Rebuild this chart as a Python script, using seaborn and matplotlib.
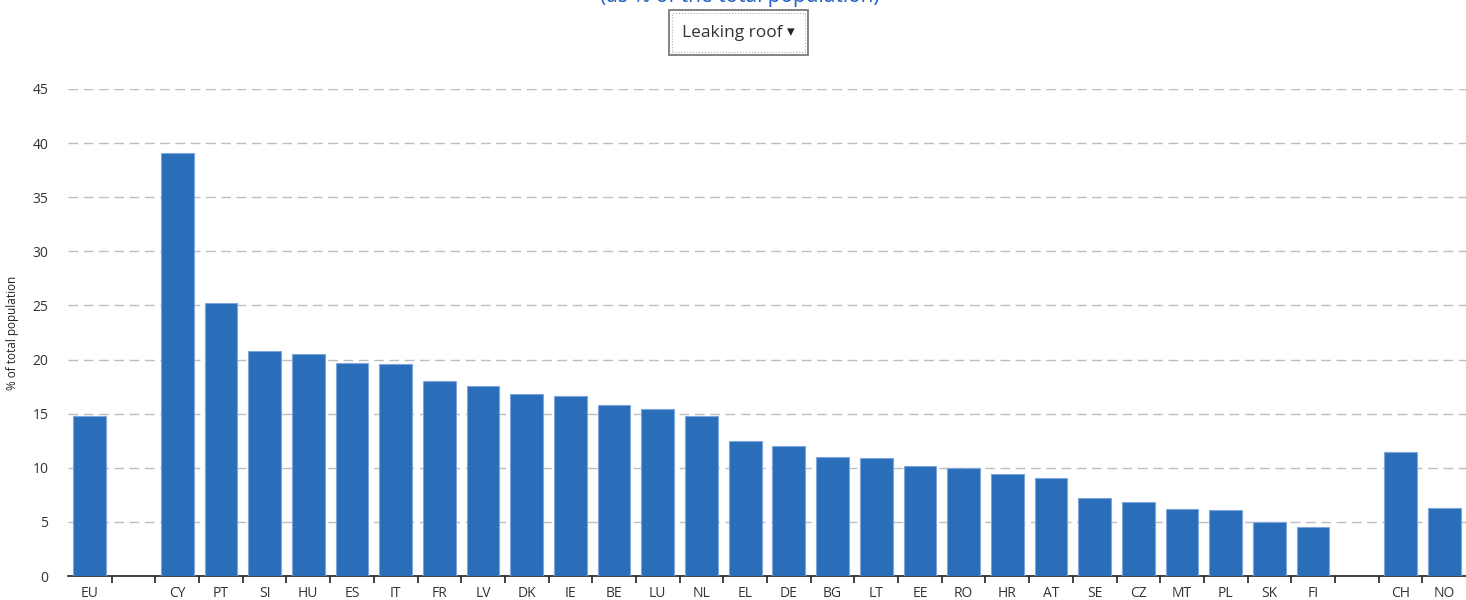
import matplotlib
matplotlib.use("Agg")
import matplotlib.pyplot as plt
import numpy as np
import pandas as pd
import seaborn as sns
from matplotlib.patches import Rectangle

# data
countries = ["EU", "CY", "PT", "SI", "HU", "ES", "IT", "FR", "LV", "DK", "IE", "BE", "LU", "NL",
             "EL", "DE", "BG", "LT", "EE", "RO", "HR", "AT", "SE", "CZ", "MT", "PL", "SK", "FI",
             "CH", "NO"]
values = [14.8, 39.1, 25.2, 20.8, 20.5, 19.7, 19.6, 18.0, 17.6, 16.8, 16.6, 15.8, 15.4, 14.8,
          12.5, 12.0, 11.0, 10.9, 10.2, 10.0, 9.4, 9.1, 7.2, 6.8, 6.2, 6.1, 5.0, 4.5,
          11.5, 6.3]
# empty slots separate EU / member states / EFTA
order = ["EU", " "] + countries[1:28] + ["  "] + countries[28:]

df = pd.DataFrame({"country": countries, "value": values})

sns.set_style("white")
plt.rcParams["font.family"] = ["Open Sans", "DejaVu Sans"]

fig = plt.figure(figsize=(14.66, 6), dpi=100)
ax = fig.add_axes([68 / 1466, 24 / 600, 1 - 68 / 1466, (576 - 89) / 600])

sns.barplot(data=df, x="country", y="value", order=order, color="#2a6eb9",
            saturation=1, width=0.75, edgecolor="#7ea6dc", linewidth=0.8, ax=ax, zorder=3)

ax.set_xlim(-0.5, len(order) - 0.5)
ax.set_ylim(0, 45)
ax.set_yticks(np.arange(0, 46, 5))
ax.yaxis.grid(True, linestyle=(0, (7, 4)), color="#bdbdbd", linewidth=1, zorder=0)
ax.set_axisbelow(True)

ax.set_xticks(range(len(order)))
ax.set_xticklabels(order)
ax.set_xticks(np.arange(0.5, len(order) - 1, 1), minor=True)
ax.tick_params(axis="x", which="major", bottom=True, length=0, pad=7, labelsize=10,
               labelcolor="#333333")
ax.tick_params(axis="x", which="minor", bottom=True, length=5, width=1.2, color="#222222")
ax.tick_params(axis="y", length=0, pad=14, labelsize=10, labelcolor="#333333")

for s in ["top", "right", "left"]:
    ax.spines[s].set_visible(False)
ax.spines["bottom"].set_color("#222222")
ax.spines["bottom"].set_linewidth(1.2)

ax.set_xlabel("")
ax.set_ylabel("% of total population", fontsize=8.5, color="#222222", labelpad=10)

# subtitle, cut off at the top edge as in the original
fig.text(740 / 1466, 1 - 2 / 600, "(as % of the total population)", ha="center", va="baseline",
         fontsize=15, color="#1f5fbf")

# dropdown button
btn = Rectangle((669 / 1466, 1 - 55 / 600), 139 / 1466, 45 / 600, transform=fig.transFigure,
                facecolor="white", edgecolor="#7a7a7a", linewidth=1.3)
fig.patches.append(btn)
inner = Rectangle((672 / 1466, 1 - 52 / 600), 133 / 1466, 39 / 600, transform=fig.transFigure,
                  facecolor="none", edgecolor="#b0b0b0", linewidth=0.8, linestyle=":")
fig.patches.append(inner)
fig.text(732 / 1466, 1 - 33 / 600, "Leaking roof", ha="center", va="center",
         fontsize=12.5, color="#333333")
fig.text(791 / 1466, 1 - 32 / 600, "▾", ha="center", va="center", fontsize=11,
         color="#222222", family=["DejaVu Sans"])

fig.savefig("out.png", dpi=100)
